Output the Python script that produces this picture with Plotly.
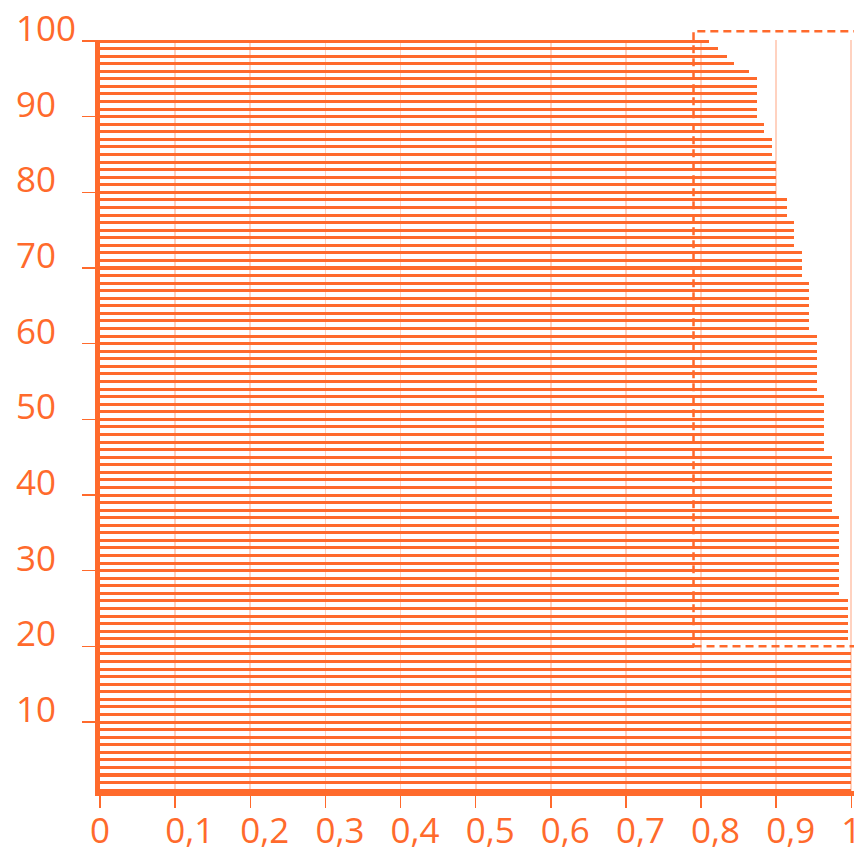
import plotly.graph_objects as go

# ---- data -------------------------------------------------------------
ranks = list(range(1, 101))
scores = [
    1.0, 1.0, 1.0, 1.0, 1.0, 1.0, 1.0, 1.0, 1.0, 1.0,          # 1-10
    1.0, 1.0, 1.0, 1.0, 1.0, 1.0, 1.0, 1.0, 1.0, 0.79,         # 11-20
    0.995, 0.995, 0.995, 0.995, 0.995, 0.995,                  # 21-26
    0.984, 0.984, 0.984, 0.984, 0.984, 0.984, 0.984, 0.984,    # 27-34
    0.984, 0.984, 0.984,                                       # 35-37
    0.974, 0.974, 0.974, 0.974, 0.974, 0.974, 0.974, 0.974,    # 38-45
    0.964, 0.964, 0.964, 0.964, 0.964, 0.964, 0.964, 0.964,    # 46-53
    0.954, 0.954, 0.954, 0.954, 0.954, 0.954, 0.954, 0.954,    # 54-61
    0.944, 0.944, 0.944, 0.944, 0.944, 0.944, 0.944,           # 62-68
    0.934, 0.934, 0.934, 0.934,                                # 69-72
    0.924, 0.924, 0.924, 0.924,                                # 73-76
    0.914, 0.914, 0.914,                                       # 77-79
    0.900, 0.900, 0.900, 0.900, 0.900,                         # 80-84
    0.894, 0.894, 0.894,                                       # 85-87
    0.884, 0.884,                                              # 88-89
    0.874, 0.874, 0.874, 0.874, 0.874, 0.874,                  # 90-95
    0.864, 0.844, 0.834, 0.823, 0.810,                         # 96-100
]

x_tick_vals = [0, 0.1, 0.2, 0.3, 0.4, 0.5, 0.6, 0.7, 0.8, 0.9, 1]
x_tick_labels = ["0", "0,1", "0,2", "0,3", "0,4", "0,5", "0,6", "0,7", "0,8", "0,9", "1"]
y_tick_vals = [10, 20, 30, 40, 50, 60, 70, 80, 90, 100]
y_tick_labels = ["10", "20", "30", "40", "50", "60", "70", "80", "90", "100"]

# highlighted region (dashed box)
box_x0, box_x1 = 0.79, 1.02
box_y0, box_y1 = 20, 101.3

# ---- style --------------------------------------------------------------
ORANGE = "#FF6A2C"
GRID = "#FFD2C0"
HIDE = '<span style="color:rgba(0,0,0,0)">{}</span>'

x_range = [0, 1.0036]
y_range = [0.885, 100.13]

# first digit of each x label centred on its tick
x_text = [HIDE.format(t[1:]) + t if len(t) > 1 else t for t in x_tick_labels]
# y labels left-aligned (pad to three digits with invisible text)
y_text = [t + (HIDE.format("0" * (3 - len(t))) if len(t) < 3 else "") for t in y_tick_labels]

fig = go.Figure(
    go.Bar(
        x=scores,
        y=ranks,
        orientation="h",
        width=0.4,
        marker=dict(color=ORANGE, line=dict(width=0)),
        hoverinfo="skip",
    )
)

def to_dom(v):
    return (v - y_range[0]) / (y_range[1] - y_range[0])

fig.add_shape(
    type="rect",
    xref="x", yref="y domain",
    x0=box_x0, x1=box_x1,
    y0=to_dom(box_y0), y1=to_dom(box_y1),
    line=dict(color=ORANGE, width=2.5, dash="8px,5px"),
    fillcolor="rgba(0,0,0,0)",
    layer="above",
)

fig.update_layout(
    width=854, height=848,
    margin=dict(l=100, r=0, t=40, b=57, pad=0),
    paper_bgcolor="white", plot_bgcolor="white",
    showlegend=False,
    bargap=0,
    font=dict(family="Open Sans", size=35, color=ORANGE),
    xaxis=dict(
        range=x_range, automargin=False,
        tickmode="array", tickvals=x_tick_vals, ticktext=x_text,
        tickangle=0, ticklabeloverflow="allow",
        ticklabelstandoff=-7,
        showgrid=True, gridcolor=GRID, gridwidth=1.7,
        zeroline=False,
        showline=True, linecolor=ORANGE, linewidth=5,
        ticks="outside", ticklen=12, tickwidth=1.5, tickcolor=ORANGE,
        tickfont=dict(family="Open Sans", size=35, color=ORANGE),
        fixedrange=True,
    ),
    yaxis=dict(
        range=y_range, automargin=False,
        tickmode="array", tickvals=y_tick_vals, ticktext=y_text,
        ticklabeloverflow="allow",
        ticklabelstandoff=12, ticklabelshift=13,
        showgrid=False, zeroline=False,
        showline=True, linecolor=ORANGE, linewidth=5,
        ticks="outside", ticklen=13, tickwidth=1.5, tickcolor=ORANGE,
        ticklabelposition="outside top",
        tickfont=dict(family="Open Sans", size=35, color=ORANGE),
        fixedrange=True,
    ),
)

fig.write_html(
    "out.html",
    config={"displayModeBar": False, "staticPlot": True},
    post_script="document.body.style.margin='0px';document.body.style.overflow='hidden';",
)
